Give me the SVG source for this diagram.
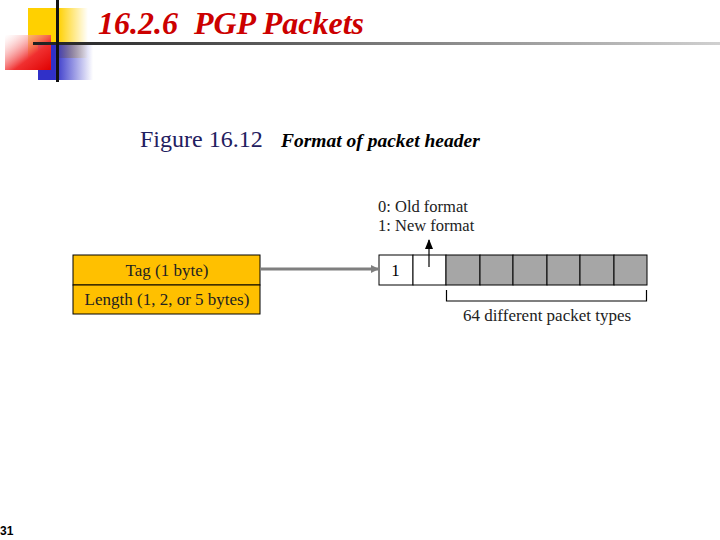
<svg xmlns="http://www.w3.org/2000/svg" width="720" height="540" viewBox="0 0 720 540">
<defs>
<linearGradient id="gy" x1="0" y1="0" x2="1" y2="0"><stop offset="0.5" stop-color="#FFD000"/><stop offset="1" stop-color="#FFD000" stop-opacity="0"/></linearGradient>
<linearGradient id="gr" x1="0" y1="0" x2="1" y2="1"><stop offset="0" stop-color="#FFFFFF" stop-opacity="0.3"/><stop offset="0.6" stop-color="#F03030"/><stop offset="1" stop-color="#E00000"/></linearGradient>
<linearGradient id="gb" x1="0" y1="0" x2="1" y2="0"><stop offset="0.3" stop-color="#3030C8"/><stop offset="1" stop-color="#3030C8" stop-opacity="0"/></linearGradient>
<linearGradient id="gl" x1="0" y1="0" x2="1" y2="0"><stop offset="0" stop-color="#202020"/><stop offset="1" stop-color="#D0D0D0"/></linearGradient>
<marker id="ah" markerWidth="8" markerHeight="8" refX="7" refY="4" orient="auto" markerUnits="userSpaceOnUse"><path d="M0,0 L8,4 L0,8 Z" fill="#7f7f7f"/></marker>
<marker id="ahk" markerWidth="10" markerHeight="8" refX="9" refY="4" orient="auto" markerUnits="userSpaceOnUse"><path d="M0,0 L10,4 L0,8 Z" fill="#000"/></marker>
</defs>
<style>
.serif{font-family:"Liberation Serif","Times New Roman",serif;}
.cell{stroke:#000;stroke-width:1;}
</style>
<g id="logo">
<rect x="28" y="8" width="60" height="50" fill="url(#gy)"/>
<rect x="38" y="45" width="55" height="35" fill="url(#gb)"/>
<rect x="5" y="35" width="46" height="35" fill="url(#gr)"/>
<rect x="33" y="42" width="687" height="3" fill="url(#gl)"/>
<rect x="56" y="0" width="3" height="82" fill="#111"/>
</g>
<text class="serif" x="98" y="34" font-size="31" font-style="italic" font-weight="bold" fill="#CC0000" xml:space="preserve" textLength="266" lengthAdjust="spacingAndGlyphs">16.2.6  PGP Packets</text>
<text class="serif" x="140" y="147" font-size="24" fill="#1F2060">Figure 16.12</text>
<text class="serif" x="281" y="147" font-size="19.5" font-style="italic" font-weight="bold" fill="#000">Format of packet header</text>
<g id="header-box">
<rect x="73" y="255" width="187" height="30" fill="#FFC000" stroke="#000"/>
<rect x="73" y="285" width="187" height="29" fill="#FFC000" stroke="#000"/>
<text class="serif" x="167" y="276" font-size="17" text-anchor="middle" fill="#222">Tag (1 byte)</text>
<text class="serif" x="167" y="305" font-size="17" text-anchor="middle" fill="#222">Length (1, 2, or 5 bytes)</text>
</g>
<g id="tag-bits">
<rect class="cell" x="379" y="255" width="34" height="30" fill="#fff"/>
<rect class="cell" x="413" y="255" width="33" height="30" fill="#fff"/>
<rect class="cell" x="446" y="255" width="34" height="30" fill="#A6A6A6"/>
<rect class="cell" x="480" y="255" width="33" height="30" fill="#A6A6A6"/>
<rect class="cell" x="513" y="255" width="34" height="30" fill="#A6A6A6"/>
<rect class="cell" x="547" y="255" width="33" height="30" fill="#A6A6A6"/>
<rect class="cell" x="580" y="255" width="34" height="30" fill="#A6A6A6"/>
<rect class="cell" x="614" y="255" width="33" height="30" fill="#A6A6A6"/>
<text class="serif" x="395.5" y="276" font-size="17" text-anchor="middle" fill="#000">1</text>
</g>
<g id="labels">
<text class="serif" x="378" y="212" font-size="16.5" fill="#222">0: Old format</text>
<text class="serif" x="378" y="231" font-size="16.5" fill="#222">1: New format</text>
<text class="serif" x="547" y="321" font-size="17" text-anchor="middle" fill="#222">64 different packet types</text>
</g>
<g id="connectors">
<line x1="260" y1="269" x2="378" y2="269" stroke="#7f7f7f" stroke-width="3" marker-end="url(#ah)"/>
<line x1="429" y1="267" x2="429" y2="240" stroke="#000" stroke-width="1.2" marker-end="url(#ahk)"/>
<path d="M446.5,290 V301 H646.5 V290" fill="none" stroke="#000" stroke-width="1.2"/>
</g>
<text x="0" y="535" font-family="Liberation Sans, Arial, sans-serif" font-size="12" font-weight="bold" fill="#000">31</text>
</svg>
